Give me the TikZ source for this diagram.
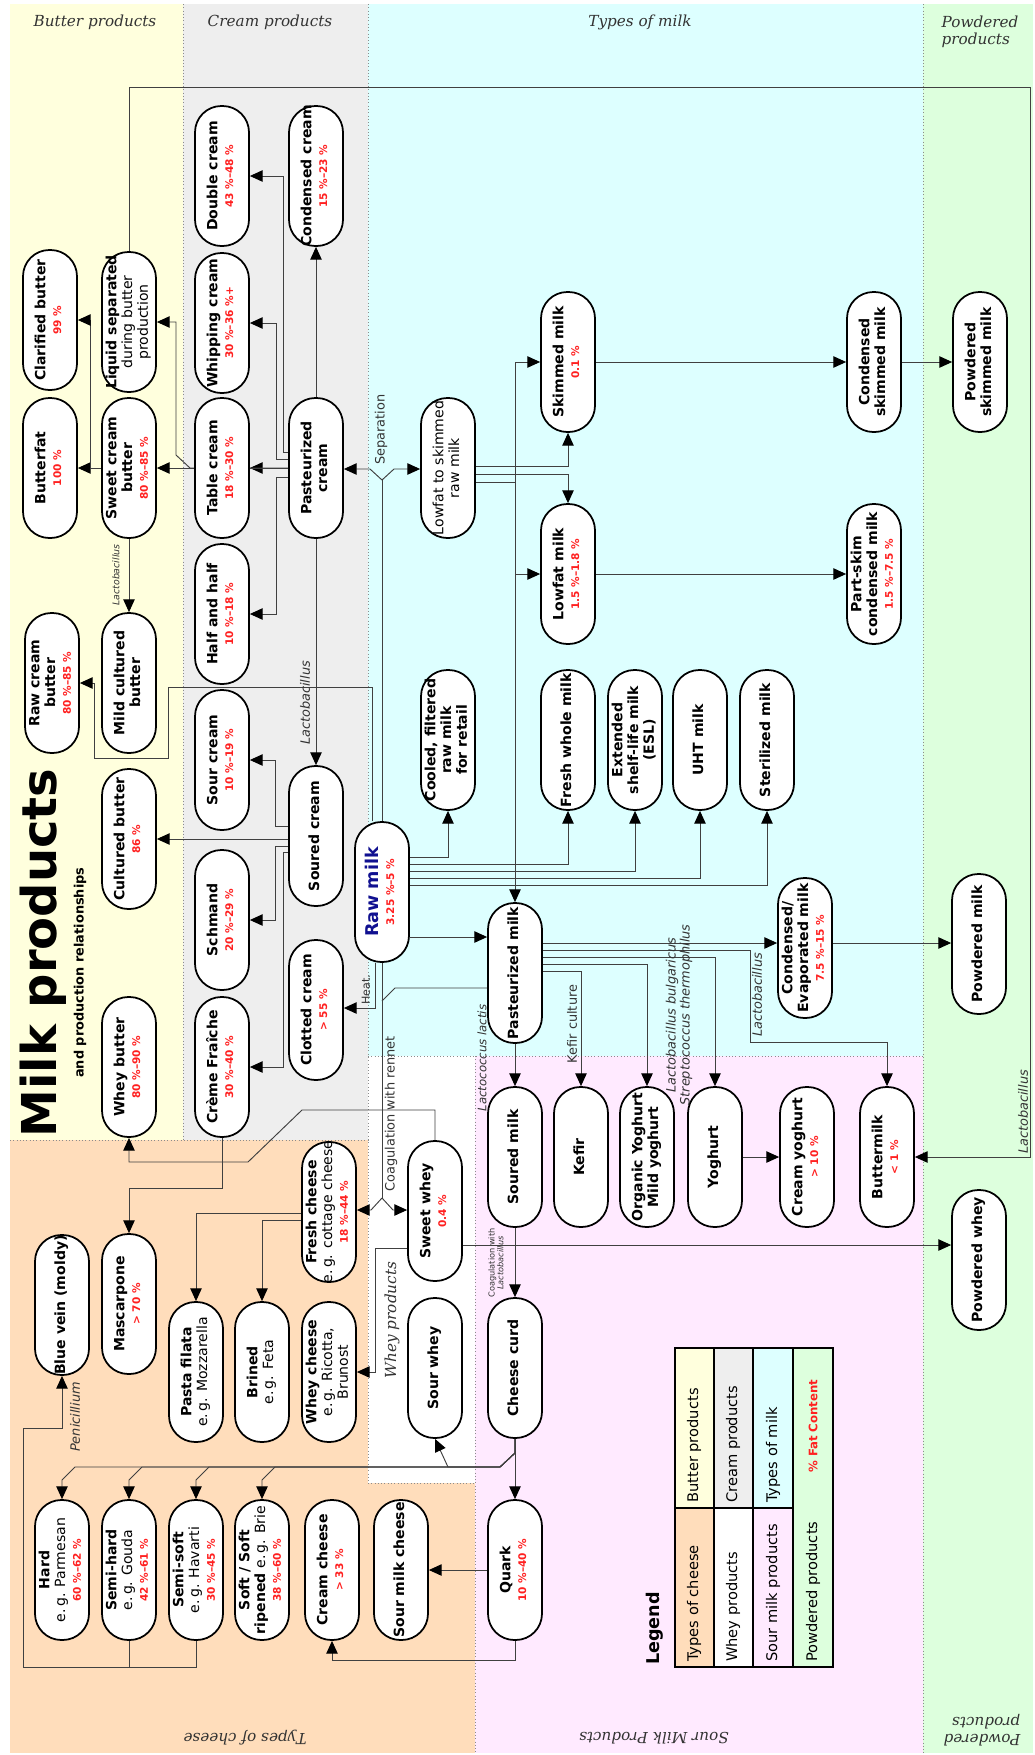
\documentclass[tikz,border=0pt]{standalone}
\usepackage{fontspec}
\setmainfont{DejaVu Sans}[ItalicFont={DejaVu Sans Oblique}, BoldItalicFont={DejaVu Sans Bold Oblique}]
\newfontfamily\headfont{DejaVu Serif}[ItalicFont={DejaVu Serif Italic}]
\usepackage{tikz}
\usetikzlibrary{arrows.meta, calc, positioning}

\definecolor{butterbg}{HTML}{FFFFDD}
\definecolor{creambg}{HTML}{EEEEEE}
\definecolor{milkbg}{HTML}{DDFFFF}
\definecolor{cheesebg}{HTML}{FFDDBB}
\definecolor{sourbg}{HTML}{FFEAFF}
\definecolor{powderbg}{HTML}{DDFFDD}
\definecolor{fatred}{HTML}{FF2020}
\definecolor{rawblue}{HTML}{101090}

\newcommand{\up}[1]{\rotatebox{90}{\makebox[0pt]{\begin{tabular}{@{}c@{}}#1\end{tabular}}}}
\newcommand{\fat}[1]{{\fontsize{9}{9.5}\selectfont\color{fatred}#1}}
\newcommand{\eg}[1]{{\mdseries #1}}

\pgfdeclarelayer{bg}
\pgfdeclarelayer{wires}
\pgfsetlayers{bg,wires,main}

\begin{document}
\begin{tikzpicture}[x=0.3mm, y=-0.3mm]
    \tikzstyle{prod} = [draw, line width=1.5pt, fill=white, rounded corners=7.9mm,
                        minimum width=16.2mm, minimum height=42mm, inner sep=0pt,
                        font=\fontsize{12}{13.5}\selectfont\bfseries]
    \tikzstyle{fl} = [-{Triangle[length=3.8mm, width=3.4mm, color=black]}, line width=0.8pt, black!75]
    \tikzstyle{ln} = [line width=0.8pt, black!75]
    \tikzstyle{lbl} = [rotate=90, inner sep=0pt, text=black!80, font=\fontsize{11}{12}\selectfont]
    \tikzstyle{lbli} = [lbl, font=\fontsize{11}{12}\selectfont\itshape]
    \tikzstyle{head} = [inner sep=0pt, text=black!80, font=\headfont\itshape\fontsize{13}{15}\selectfont]
    \tikzstyle{zone} = [draw=black!45, dotted, line width=0.8pt]
    \tikzstyle{key} = [draw=black, line width=1.3pt]
    \tikzstyle{keytxt} = [rotate=90, anchor=west, inner sep=0pt, font=\fontsize{12.5}{13}\selectfont]

    \useasboundingbox (0,0) rectangle (1035,1755);

    \begin{pgfonlayer}{bg}
        \fill[white] (0,0) rectangle (1035,1755);
        \fill[butterbg] (10,4) rectangle (183,1140);
        \fill[creambg] (183,4) rectangle (368,1140);
        \fill[milkbg] (368,4) rectangle (923,1056);
        \fill[white] (368,1056) rectangle (475,1483);
        \fill[sourbg] (475,1056) rectangle (923,1753);
        \fill[cheesebg] (10,1140) rectangle (368,1753);
        \fill[cheesebg] (368,1483) rectangle (475,1753);
        \fill[powderbg] (923,4) rectangle (1033,1753);
        \draw[zone] (183,4) -- (183,1140);
        \draw[zone] (368,4) -- (368,1483);
        \draw[zone] (10,1140) -- (368,1140);
        \draw[zone] (368,1056) -- (923,1056);
        \draw[zone] (475,1056) -- (475,1753);
        \draw[zone] (368,1483) -- (475,1483);
        \draw[zone] (923,4) -- (923,1753);
    \end{pgfonlayer}

    \node[head] (hbutter) at (95,22) {Butter products};
    \node[head] (hcream) at (270,22) {Cream products};
    \node[head] (hmilk) at (640,22) {Types of milk};
    \node[head, align=left] (hpow) at (980,32) {Powdered\\products};
    \node[head, rotate=180] (hcheese) at (245,1738) {Types of cheese};
    \node[head, rotate=180] (hsour) at (654,1738) {Sour Milk Products};
    \node[head, rotate=180, align=left] (hpowb) at (982,1730) {Powdered\\products};
    \node[head, rotate=90] (hwhey) at (392,1320) {Whey products};

    \node[rotate=90, inner sep=0pt, font=\fontsize{41}{41}\selectfont\bfseries] (title) at (43,953) {Milk products};
    \node[rotate=90, anchor=west, inner sep=0pt, font=\fontsize{11}{11}\selectfont\bfseries] (subtitle) at (80,1078) {and production relationships};

    \node[prod] (dbl)    at (222,176)  {\up{Double cream\\\fat{43 \%--48 \%}}};
    \node[prod] (ccr)    at (316,176)  {\up{Condensed cream\\\fat{15 \%--23 \%}}};
    \node[prod] (clar)   at (50,320)   {\up{Clarified butter\\\fat{99 \%}}};
    \node[prod] (liq)    at (129,322)  {\up{Liquid separated\\\eg{during butter}\\\eg{production}}};
    \node[prod] (whip)   at (222,323)  {\up{Whipping cream\\\fat{30 \%--36 \%+}}};
    \node[prod] (skim)   at (568,362)  {\up{Skimmed milk\\\fat{0.1 \%}}};
    \node[prod] (cskim)  at (874,362)  {\up{Condensed\\skimmed milk}};
    \node[prod] (pskim)  at (980,362)  {\up{Powdered\\skimmed milk}};
    \node[prod] (bfat)   at (50,468)   {\up{Butterfat\\\fat{100 \%}}};
    \node[prod] (scb)    at (129,468)  {\up{Sweet cream\\butter\\\fat{80 \%--85 \%}}};
    \node[prod] (table)  at (222,468)  {\up{Table cream\\\fat{18 \%--30 \%}}};
    \node[prod] (pcream) at (316,468)  {\up{Pasteurized\\cream}};
    \node[prod] (lts)    at (448,468)  {\up{\eg{Lowfat to skimmed}\\\eg{raw milk}}};
    \node[prod] (lowf)   at (568,574)  {\up{Lowfat milk\\\fat{1.5 \%--1.8 \%}}};
    \node[prod] (pscm)   at (874,574)  {\up{Part-skim\\condensed milk\\\fat{1.5 \%--7.5 \%}}};
    \node[prod] (half)   at (222,614)  {\up{Half and half\\\fat{10 \%--18 \%}}};
    \node[prod] (mild)   at (129,683)  {\up{Mild cultured\\butter}};
    \node[prod] (rcb)    at (52,683)   {\up{Raw cream\\butter\\\fat{80 \%--85 \%}}};
    \node[prod] (sour)   at (222,760)  {\up{Sour cream\\\fat{10 \%--19 \%}}};
    \node[prod] (cool)   at (448,740)  {\up{Cooled, filtered\\raw milk\\for retail}};
    \node[prod] (fresh)  at (568,740)  {\up{Fresh whole milk}};
    \node[prod] (esl)    at (635,740)  {\up{Extended\\shelf-life milk\\(ESL)}};
    \node[prod] (uht)    at (700,740)  {\up{UHT milk}};
    \node[prod] (ster)   at (767,740)  {\up{Sterilized milk}};
    \node[prod] (cult)   at (129,839)  {\up{Cultured butter\\\fat{86 \%}}};
    \node[prod] (soured) at (316,836)  {\up{Soured cream}};
    \node[prod] (schm)   at (222,920)  {\up{Schmand\\\fat{20 \%--29 \%}}};
    \node[prod] (raw)    at (382,892)  {\up{{\fontsize{15}{16}\selectfont\color{rawblue}Raw milk}\\\fat{3.25 \%--5 \%}}};
    \node[prod] (past)   at (515,973)  {\up{Pasteurized milk}};
    \node[prod] (evap)   at (805,948)  {\up{Condensed/\\Evaporated milk\\\fat{7.5 \%--15 \%}}};
    \node[prod] (pmilk)  at (979,944)  {\up{Powdered milk}};
    \node[prod] (clot)   at (316,1010) {\up{Clotted cream\\\fat{> 55 \%}}};
    \node[prod] (cfr)    at (222,1067) {\up{Crème Fraîche\\\fat{30 \%--40 \%}}};
    \node[prod] (wbut)   at (129,1067) {\up{Whey butter\\\fat{80 \%--90 \%}}};
    \node[prod] (smilk)  at (515,1157) {\up{Soured milk}};
    \node[prod] (kefir)  at (581,1157) {\up{Kefir}};
    \node[prod] (org)    at (647,1157) {\up{Organic Yoghurt\\Mild yoghurt}};
    \node[prod] (yog)    at (715,1157) {\up{Yoghurt}};
    \node[prod] (cyog)   at (807,1157) {\up{Cream yoghurt\\\fat{> 10 \%}}};
    \node[prod] (bmilk)  at (887,1157) {\up{Buttermilk\\\fat{< 1 \%}}};
    \node[prod] (swhey)  at (435,1211) {\up{Sweet whey\\\fat{0.4 \%}}};
    \node[prod] (fch)    at (329,1212) {\up{Fresh cheese\\\eg{e.\,g. cottage cheese}\\\fat{18 \%--44 \%}}};
    \node[prod] (pwhey)  at (979,1260) {\up{Powdered whey}};
    \node[prod] (masc)   at (129,1304) {\up{Mascarpone\\\fat{> 70 \%}}};
    \node[prod] (blue)   at (62,1305)  {\up{Blue vein (moldy)}};
    \node[prod] (pasta)  at (196,1372) {\up{Pasta filata\\\eg{e.\,g. Mozzarella}}};
    \node[prod] (brine)  at (262,1372) {\up{Brined\\\eg{e.\,g. Feta}}};
    \node[prod] (wch)    at (329,1372) {\up{Whey cheese\\\eg{e.\,g. Ricotta,}\\\eg{Brunost}}};
    \node[prod] (sowhey) at (435,1368) {\up{Sour whey}};
    \node[prod] (curd)   at (515,1368) {\up{Cheese curd}};
    \node[prod] (hard)   at (62,1570)  {\up{Hard\\\eg{e.\,g. Parmesan}\\\fat{60 \%--62 \%}}};
    \node[prod] (shard)  at (129,1570) {\up{Semi-hard\\\eg{e.\,g. Gouda}\\\fat{42 \%--61 \%}}};
    \node[prod] (ssoft)  at (196,1570) {\up{Semi-soft\\\eg{e.\,g. Havarti}\\\fat{30 \%--45 \%}}};
    \node[prod] (soft)   at (262,1570) {\up{Soft / Soft\\ripened \eg{e.\,g. Brie}\\\fat{38 \%--60 \%}}};
    \node[prod] (crch)   at (332,1570) {\up{Cream cheese\\\fat{> 33 \%}}};
    \node[prod] (smch)   at (401,1570) {\up{Sour milk cheese}};
    \node[prod] (quark)  at (515,1570) {\up{Quark\\\fat{10 \%--40 \%}}};

    \coordinate (sep) at (382,480);
    \coordinate (coag) at (382,1198);
    \coordinate (mrg) at (382,1001);

    \begin{pgfonlayer}{wires}
        \draw[fl] (pcream) -- (ccr);
        \draw[fl] (pcream.west |- 0,452) -- (283,452) |- (dbl);
        \draw[fl] (pcream.west |- 0,459) -- (276,459) |- (whip);
        \draw[fl] (pcream.west |- 0,468) -- (table);
        \draw[fl] (pcream.west |- 0,477) -- (276,477) |- (half);
        \draw[fl] (pcream.west |- 0,468) -- (scb);
        \draw[fl] (pcream.west |- 0,468) -- (190,468) -- (176,455) |- (liq);
        \draw[fl] (pcream) -- (soured);
        \draw[fl] (scb) -- (bfat);
        \draw[fl] (scb) -- (90,468) |- (clar);
        \draw[fl] (scb) -- (mild);

        \draw[fl] (soured.west |- 0,826) -- (275,826) |- (sour);
        \draw[fl] (soured.west |- 0,839) -- (cult);
        \draw[fl] (soured.west |- 0,846) -- (275,846) |- (schm);
        \draw[fl] (soured.west |- 0,852) -- (283,852) |- (cfr);

        \draw[ln] (raw) -- (sep);
        \draw[fl] (sep) -- (370,469) -- (pcream.east |- 0,469);
        \draw[fl] (sep) -- (394,469) -- (lts.west |- 0,469);
        \draw[fl] (raw.north -| 372,0) -- (372,687) -- (168,687) -- (168,758) -- (94,758) |- (rcb);
        \draw[fl] (raw.east |- 0,857) -| (cool);
        \draw[fl] (raw.east |- 0,864) -| (fresh);
        \draw[fl] (raw.east |- 0,871) -| (esl);
        \draw[fl] (raw.east |- 0,878) -| (uht);
        \draw[fl] (raw.east |- 0,885) -| (ster);
        \draw[fl] (raw.east |- 0,937) -- (past.west |- 0,937);
        \draw[fl] (raw.south -| 375,0) -- (375,1008) -- (clot.east |- 0,1008);

        \draw[fl] (lts.east |- 0,466) -| (skim);
        \draw[fl] (lts.east |- 0,474) -| (lowf);
        \draw[fl] (lts.east |- 0,482) -- (515,482) |- (skim);
        \draw[fl] (lts.east |- 0,482) -- (515,482) |- (lowf);
        \draw[fl] (lts.east |- 0,482) -- (515,482) -- (past);
        \draw[fl] (skim) -- (cskim);
        \draw[fl] (cskim) -- (pskim);
        \draw[fl] (lowf) -- (pscm);

        \draw[fl] (past.east |- 0,943) -- (evap.west |- 0,943);
        \draw[fl] (evap.east |- 0,943) -- (pmilk.west |- 0,943);
        \draw[fl] (past.east |- 0,950) -- (750,950) -- (750,1042) -| (bmilk);
        \draw[fl] (past.east |- 0,957) -| (yog);
        \draw[fl] (past.east |- 0,964) -| (org);
        \draw[fl] (past.east |- 0,971) -| (kefir);
        \draw[fl] (past) -- (smilk);
        \draw[fl] (yog) -- (cyog);
        \draw[fl] (liq) -- (129,87) -- (1030,87) |- (bmilk);

        \draw[ln] (raw) -- (coag);
        \draw[ln] (past.west |- 0,988) -- (395,988) -- (mrg);
        \draw[fl] (coag) -- (371,1210) -- (fch.east |- 0,1210);
        \draw[fl] (coag) -- (393,1210) -- (swhey.west |- 0,1210);

        \draw[fl] (fch.west |- 0,1213) -| (pasta);
        \draw[fl] (fch.west |- 0,1220) -| (brine);
        \draw[fl] (swhey.west |- 0,1248) -- (375,1248) |- (wch);
        \draw[fl] (swhey) -- (435,1110) -- (302,1110) -- (248,1162) -| (wbut);
        \draw[fl] (swhey.east |- 0,1245) -- (pwhey.west |- 0,1245);
        \draw[fl] (cfr) -- (222,1188) -| (masc);

        \draw[fl] (smilk) -- (curd);
        \draw[fl] (curd) -- (quark);
        \draw[fl] (curd) -- (515,1453) -- (500,1467) -- (448,1467) -- (sowhey.south);
        \foreach \c/\x in {hard/62, shard/129, ssoft/196, soft/262}
            \draw[fl] (curd) -- (515,1453) -- (500,1467) -- (\x+13,1467) -- (\x,1480) -- (\c);
        \draw[fl] (quark) -- (smch);
        \draw[fl] (quark) -- (515,1660) -| (crch);
        \draw[ln] (shard) -- (129,1667);
        \draw[fl] (ssoft) -- (196,1667) -- (23,1667) |- (62,1428) -- (blue);
    \end{pgfonlayer}

    \node[lbli, font=\fontsize{8}{9}\selectfont\itshape] (lacmild) at (116,575) {Lactobacillus};
    \node[lbli] (lacsour) at (305,703) {Lactobacillus};
    \node[lbl, anchor=west] (septxt) at (381,465) {Separation};
    \node[lbl, font=\fontsize{9.5}{10}\selectfont] (heat) at (366,990) {Heat.};
    \node[lbl] (coagtxt) at (391,1114) {Coagulation with rennet};
    \node[lbli, font=\fontsize{10}{11}\selectfont\itshape] (lactis) at (482,1058) {Lactococcus lactis};
    \node[lbl] (kefc) at (572,1024) {Kefir culture};
    \node[lbli, align=center] (strep) at (679,1015) {Lactobacillus bulgaricus\\Streptococcus thermophilus};
    \node[lbli] (lacbm) at (757,995) {Lactobacillus};
    \node[lbli] (lacedge) at (1023,1112) {Lactobacillus};
    \node[lbl, align=center, font=\fontsize{7}{7.5}\selectfont] (coaglac) at (496,1263) {Coagulation with\\\textit{Lactobacillus}};
    \node[lbli] (peni) at (75,1417) {Penicillium};

    \node[rotate=90, anchor=west, inner sep=0pt, font=\fontsize{15}{15}\selectfont\bfseries] (leg) at (655,1665) {Legend};
    \fill[butterbg] (675,1348) rectangle (714,1508);
    \fill[creambg] (714,1348) rectangle (753,1508);
    \fill[milkbg] (753,1348) rectangle (793,1508);
    \fill[cheesebg] (675,1508) rectangle (714,1667);
    \fill[white] (714,1508) rectangle (753,1667);
    \fill[sourbg] (753,1508) rectangle (793,1667);
    \fill[powderbg] (793,1348) rectangle (833,1667);
    \draw[key] (675,1348) rectangle (833,1667);
    \draw[key] (714,1348) -- (714,1667);
    \draw[key] (753,1348) -- (753,1667);
    \draw[key] (793,1348) -- (793,1667);
    \draw[key] (675,1508) -- (793,1508);
    \node[keytxt] (kbutter) at (694,1503) {Butter products};
    \node[keytxt] (kcream) at (733,1503) {Cream products};
    \node[keytxt] (kmilk) at (773,1503) {Types of milk};
    \node[keytxt] (kcheese) at (694,1662) {Types of cheese};
    \node[keytxt] (kwhey) at (733,1662) {Whey products};
    \node[keytxt] (ksour) at (773,1662) {Sour milk products};
    \node[keytxt] (kpow) at (813,1662) {Powdered products};
    \node[keytxt, text=fatred, font=\fontsize{10}{10}\selectfont\bfseries] (kfat) at (813,1473) {\% Fat Content};
\end{tikzpicture}
\end{document}
